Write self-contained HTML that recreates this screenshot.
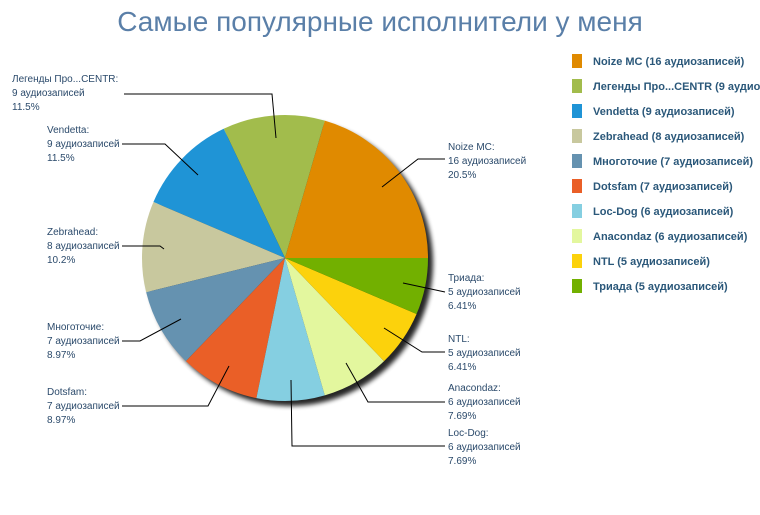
<!DOCTYPE html>
<html><head><meta charset="utf-8"><style>
body{margin:0;background:#fff;width:760px;height:510px;overflow:hidden}
svg text{font-family:"Liberation Sans","DejaVu Sans",sans-serif}
</style></head><body>
<svg id="s" width="760" height="510" xmlns="http://www.w3.org/2000/svg">
<defs><filter id="sh" x="-20%" y="-20%" width="140%" height="140%"><feGaussianBlur stdDeviation="2.5"/></filter></defs>
<text x="380" y="31" text-anchor="middle" font-size="28" fill="#5a7fa8">Самые популярные исполнители у меня</text>
<circle cx="290" cy="263" r="143" fill="#000" opacity="0.85" filter="url(#sh)"/>
<g id="pie"></g>
<g stroke="#000" stroke-width="1" fill="none">
<polyline points="382,187 418,159 445,159"/>
<polyline points="276,138 272,94 124,94"/>
<polyline points="198,175 165,144 122,144"/>
<polyline points="164,249 160,246 122,246"/>
<polyline points="181,319 140,341 122,341"/>
<polyline points="229,366 208,406 122,406"/>
<polyline points="291,380 292,446 445,446"/>
<polyline points="346,363 368,402 445,402"/>
<polyline points="384,328 422,352 445,352"/>
<polyline points="403,283 445,292"/>
</g>
<g font-size="10" fill="#2b4a6b">
<text x="448" y="150">Noize MC:</text><text x="448" y="164">16 аудиозаписей</text><text x="448" y="178">20.5%</text>
<text x="12" y="82">Легенды Про...CENTR:</text><text x="12" y="96">9 аудиозаписей</text><text x="12" y="110">11.5%</text>
<text x="47" y="133">Vendetta:</text><text x="47" y="147">9 аудиозаписей</text><text x="47" y="161">11.5%</text>
<text x="47" y="235">Zebrahead:</text><text x="47" y="249">8 аудиозаписей</text><text x="47" y="263">10.2%</text>
<text x="47" y="330">Многоточие:</text><text x="47" y="344">7 аудиозаписей</text><text x="47" y="358">8.97%</text>
<text x="47" y="395">Dotsfam:</text><text x="47" y="409">7 аудиозаписей</text><text x="47" y="423">8.97%</text>
<text x="448" y="281">Триада:</text><text x="448" y="295">5 аудиозаписей</text><text x="448" y="309">6.41%</text>
<text x="448" y="342">NTL:</text><text x="448" y="356">5 аудиозаписей</text><text x="448" y="370">6.41%</text>
<text x="448" y="391">Anacondaz:</text><text x="448" y="405">6 аудиозаписей</text><text x="448" y="419">7.69%</text>
<text x="448" y="436">Loc-Dog:</text><text x="448" y="450">6 аудиозаписей</text><text x="448" y="464">7.69%</text>
</g>
<g id="leg" font-size="11" font-weight="bold" fill="#2b587a"></g>
</svg>
<script>
var d=[["Noize MC (16 аудиозаписей)",16,"#e08a00"],["Легенды Про...CENTR (9 аудиозаписей)",9,"#a2bc4c"],["Vendetta (9 аудиозаписей)",9,"#1f94d6"],["Zebrahead (8 аудиозаписей)",8,"#c8c89e"],["Многоточие (7 аудиозаписей)",7,"#6592b0"],["Dotsfam (7 аудиозаписей)",7,"#ea5f27"],["Loc-Dog (6 аудиозаписей)",6,"#85cfe1"],["Anacondaz (6 аудиозаписей)",6,"#e3f79e"],["NTL (5 аудиозаписей)",5,"#fcd20c"],["Триада (5 аудиозаписей)",5,"#72b000"]];
var cx=285,cy=258,r=143,a=0,ns="http://www.w3.org/2000/svg",p=document.getElementById("pie"),L=document.getElementById("leg");
d.forEach(function(e,i){var b=a+e[1]/78*2*Math.PI;
var x1=cx+r*Math.cos(a),y1=cy-r*Math.sin(a),x2=cx+r*Math.cos(b),y2=cy-r*Math.sin(b);
var el=document.createElementNS(ns,"path");el.setAttribute("d","M"+cx+","+cy+"L"+x1+","+y1+"A"+r+","+r+" 0 "+((b-a)>Math.PI?1:0)+" 0 "+x2+","+y2+"Z");el.setAttribute("fill",e[2]);p.appendChild(el);a=b;
var y=54+i*25;var rc=document.createElementNS(ns,"rect");rc.setAttribute("x",572);rc.setAttribute("y",y);rc.setAttribute("width",10);rc.setAttribute("height",14);rc.setAttribute("fill",e[2]);L.appendChild(rc);
var t=document.createElementNS(ns,"text");t.setAttribute("x",593);t.setAttribute("y",y+11);t.textContent=e[0];L.appendChild(t);});
</script>
</body></html>
